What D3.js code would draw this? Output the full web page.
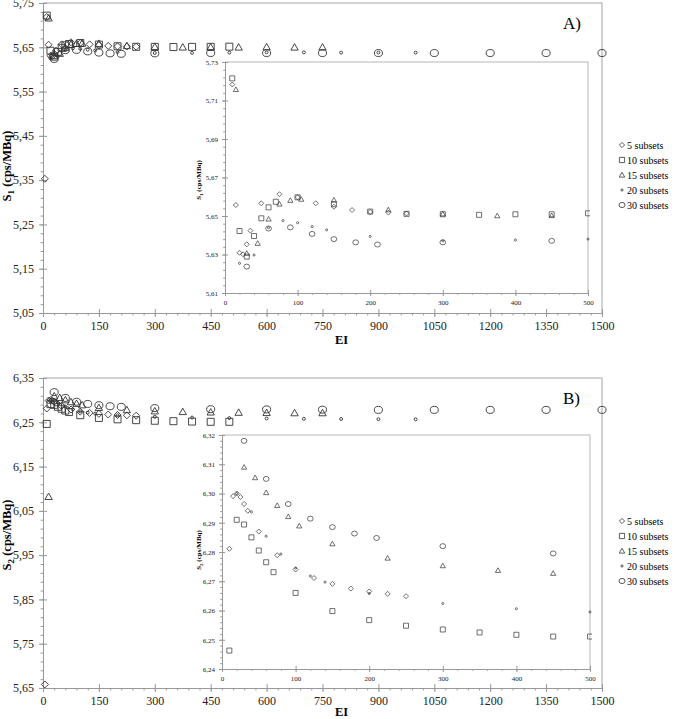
<!DOCTYPE html>
<html>
<head>
<meta charset="utf-8">
<script src="https://cdn.jsdelivr.net/npm/d3@7"></script>
<style>
  body { margin: 0; background: #fff; }
  svg { font-family: "Liberation Serif", "Times New Roman", serif; }
  .mk { fill: none; stroke: #333; stroke-width: 0.9; }
  .ax path, .ax line { stroke: #999; stroke-width: 1; }
  .ax text { fill: #222; }
</style>
</head>
<body>
<svg id="view" width="676" height="719"></svg>
<script>

// iterations run for every subset count; EI = iterations x subsets
const iterations = [1, 2, 3, 4, 5, 6, 7, 10, 15, 20, 25, 30, 35, 40, 45, 50];
const subsets = [5, 10, 15, 20, 30];
const seriesNames = ['5 subsets', '10 subsets', '15 subsets', '20 subsets', '30 subsets'];
const shapes = ['diamond', 'square', 'triangle', 'dot', 'circle'];

// S1 (cps/MBq), one value per iteration count
const s1_5  = [5.353, 5.7183, 5.6557, 5.6309, 5.6301, 5.6353, 5.6424, 5.6566, 5.6613, 5.6597, 5.6566, 5.6548, 5.6531, 5.6521, 5.6518, 5.6513];
const s1_10 = [5.7215, 5.6422, 5.6289, 5.6396, 5.6488, 5.6545, 5.6574, 5.6597, 5.6561, 5.6523, 5.6511, 5.6509, 5.6506, 5.6509, 5.6509, 5.6514];
const s1_15 = [5.7157, 5.6306, 5.6358, 5.6484, 5.6562, 5.6581, 5.6587, 5.6583, 5.6532, 5.6511, 5.6501, 5.6502, 5.6500, 5.6505, 5.6500, 5.6500];
const s1_20 = [5.6254, 5.6297, 5.6439, 5.6476, 5.6465, 5.6445, 5.6428, 5.6394, 5.6371, 5.6375, 5.6380, 5.6385, 5.6385, 5.6380, 5.6380, 5.6380];
const s1_30 = [5.6237, 5.6435, 5.6441, 5.6407, 5.6380, 5.6363, 5.6352, 5.6363, 5.6371, 5.6370, 5.6370, 5.6370, 5.6370, 5.6370, 5.6370, 5.6370];

// S2 (cps/MBq)
const s2_5  = [5.658, 6.2811, 6.2991, 6.3000, 6.2988, 6.2964, 6.2941, 6.2870, 6.2789, 6.2740, 6.2711, 6.2691, 6.2675, 6.2665, 6.2657, 6.2649];
const s2_10 = [6.2463, 6.2910, 6.2894, 6.2850, 6.2805, 6.2765, 6.2731, 6.2660, 6.2598, 6.2567, 6.2548, 6.2535, 6.2525, 6.2517, 6.2511, 6.2511];
const s2_15 = [6.082, 6.3090, 6.3054, 6.3003, 6.2959, 6.2921, 6.2889, 6.2828, 6.2779, 6.2753, 6.2737, 6.2727, 6.2720, 6.2715, 6.2710, 6.2710];
const s2_20 = [6.3000, 6.2937, 6.2854, 6.2793, 6.2745, 6.2718, 6.2697, 6.2658, 6.2624, 6.2606, 6.2595, 6.2585, 6.2580, 6.2575, 6.2570, 6.2568];
const s2_30 = [6.3180, 6.3050, 6.2964, 6.2914, 6.2885, 6.2863, 6.2848, 6.2820, 6.2795, 6.2790, 6.2785, 6.2780, 6.2780, 6.2780, 6.2780, 6.2780];

// axis ticks
const mainXTicks = [0, 150, 300, 450, 600, 750, 900, 1050, 1200, 1350, 1500];
const insetXTicks = [0, 100, 200, 300, 400, 500];
const s1MainTicks = [5.05, 5.15, 5.25, 5.35, 5.45, 5.55, 5.65, 5.75];
const s1InsetTicks = [5.61, 5.63, 5.65, 5.67, 5.69, 5.71, 5.73];
const s2MainTicks = [5.65, 5.75, 5.85, 5.95, 6.05, 6.15, 6.25, 6.35];
const s2InsetTicks = [6.24, 6.25, 6.26, 6.27, 6.28, 6.29, 6.30, 6.31, 6.32];


const svg = d3.select('#view');
const comma = f => v => d3.format(f)(v).replace('.', ',');

const markerPath = function(kind, s){
    if (kind === 'diamond') return `M0,${-s}L${s},0L0,${s}L${-s},0Z`;
    if (kind === 'square') return `M${-s},${-s}H${s}V${s}H${-s}Z`;
    if (kind === 'triangle') return `M0,${-s*1.05}L${s*1.05},${s*0.8}L${-s*1.05},${s*0.8}Z`;
    const rx = kind === 'dot' ? s*0.42 : s*1.15;
    const ry = kind === 'dot' ? s*0.42 : s*1.0;
    return `M${-rx},0A${rx},${ry} 0 1 0 ${rx},0A${rx},${ry} 0 1 0 ${-rx},0Z`;
}

// major ticks cross the axis line, minor ticks stay outside
const drawAxis = function(g, axisFn, scale, major, minor, fmt, size, pad, fs){
    const a = g.append('g').attr('class', 'ax');
    a.append('g').call(axisFn(scale).tickValues(minor).tickSize(size*0.6).tickSizeOuter(0).tickFormat(''));
    a.append('g').call(axisFn(scale).tickValues(major).tickSize(-size).tickSizeOuter(0).tickFormat(''))
        .select('.domain').remove();
    a.append('g').call(axisFn(scale).tickValues(major).tickSize(size).tickSizeOuter(0).tickPadding(pad).tickFormat(fmt))
        .select('.domain').remove();
    a.selectAll('text').style('font-size', fs + 'px').style('font-family', 'Liberation Serif');
    return a;
}

const plotPanel = function(cfg){
    const {main, inset, series, sub, tag, legendY} = cfg;

    // ---- main plot
    const x = d3.scaleLinear().domain([0, 1500]).range([main.left, main.right]);
    const y = d3.scaleLinear().domain(main.domain).range([main.bottom, main.top]);

    svg.append('path')
        .attr('d', `M${main.left},${main.top}H${main.right}V${main.bottom}`)
        .attr('fill', 'none').attr('stroke', '#c4c4c4').attr('stroke-width', 1.5);

    const gx = svg.append('g').attr('transform', `translate(0,${main.bottom})`);
    drawAxis(gx, d3.axisBottom, x, mainXTicks, d3.range(0, 1501, 30), d3.format('d'), 4, 4, 12);
    const gy = svg.append('g').attr('transform', `translate(${main.left},0)`);
    drawAxis(gy, d3.axisLeft, y, main.ticks, d3.range(0, 36).map(i => main.domain[0] + i*0.02), comma('.2f'), 4, 5, 12);

    series.forEach((vals, k) => {
        const pts = iterations.map((it, i) => ({ei: it*subsets[k], v: vals[i]}));
        svg.append('g').selectAll('path')
            .data(pts).enter().append('path')
            .attr('class', 'mk')
            .attr('transform', d => `translate(${x(d.ei)},${y(d.v)})`)
            .attr('d', markerPath(shapes[k], 3.5));
    });

    svg.append('text').attr('x', (main.left + main.right)/2 + 19).attr('y', Math.min(main.bottom + 31, 716))
        .attr('text-anchor', 'middle').style('font-weight', 'bold').style('font-size', '12.5px').text('EI');

    const yl = svg.append('text')
        .attr('transform', `translate(11,${main.labelY}) rotate(-90)`)
        .attr('text-anchor', 'middle').style('font-weight', 'bold').style('font-size', '12.5px');
    yl.append('tspan').text('S');
    yl.append('tspan').attr('dy', 3).style('font-size', '9px').text(sub);
    yl.append('tspan').attr('dy', -3).text(' (cps/MBq)');

    svg.append('text').attr('x', main.right - 39).attr('y', main.top + 26)
        .style('font-size', '17px').text(tag);

    // ---- inset (EI up to 500)
    const xi = d3.scaleLinear().domain([0, 500]).range([inset.left, inset.right]);
    const yi = d3.scaleLinear().domain(inset.domain).range([inset.bottom, inset.top]);

    svg.append('path')
        .attr('d', `M${inset.left},${inset.top}H${inset.right}V${inset.bottom}`)
        .attr('fill', 'none').attr('stroke', '#d0d0d0').attr('stroke-width', 1.5);

    const ix = svg.append('g').attr('transform', `translate(0,${inset.bottom})`);
    drawAxis(ix, d3.axisBottom, xi, insetXTicks, d3.range(0, 501, 20), d3.format('d'), 3, 4, 7);
    const iy = svg.append('g').attr('transform', `translate(${inset.left},0)`);
    const nMinor = Math.round((inset.domain[1] - inset.domain[0]) / inset.minor);
    drawAxis(iy, d3.axisLeft, yi, inset.ticks, d3.range(0, nMinor + 1).map(i => inset.domain[0] + i*inset.minor), comma('.2f'), 3, 4, 7);

    const clipId = 'clip' + tag.replace(')', '');
    svg.append('clipPath').attr('id', clipId).append('rect')
        .attr('x', inset.left).attr('y', inset.top - 2)
        .attr('width', inset.right - inset.left + 2).attr('height', inset.bottom - inset.top + 2);

    const ig = svg.append('g').attr('clip-path', `url(#${clipId})`);
    series.forEach((vals, k) => {
        const pts = iterations.map((it, i) => ({ei: it*subsets[k], v: vals[i]}))
            .filter(d => d.ei <= 500 && d.v >= inset.domain[0] && d.v <= inset.domain[1]);
        ig.append('g').selectAll('path')
            .data(pts).enter().append('path')
            .attr('class', 'mk').style('stroke-width', 0.7)
            .attr('transform', d => `translate(${xi(d.ei)},${yi(d.v)})`)
            .attr('d', markerPath(shapes[k], 2.5));
    });

    const il = svg.append('text')
        .attr('transform', `translate(201,${inset.labelY}) rotate(-90)`)
        .attr('text-anchor', 'middle').style('font-weight', 'bold').style('font-size', '7px');
    il.append('tspan').text('S');
    il.append('tspan').attr('dy', 2).style('font-size', '5px').text(sub);
    il.append('tspan').attr('dy', -2).text(' (cps/MBq)');

    // ---- legend
    const lg = svg.append('g');
    seriesNames.forEach((name, k) => {
        const ly = legendY + k*15;
        lg.append('path').attr('class', 'mk').style('stroke-width', 0.8)
            .attr('transform', `translate(622,${ly})`)
            .attr('d', markerPath(shapes[k], 2.6));
        lg.append('text').attr('x', 627).attr('y', ly + 3.5)
            .style('font-size', '10px').text(name);
    });
}


plotPanel({
    main: {left: 43, right: 602, top: 3, bottom: 313, domain: [5.05, 5.75], ticks: s1MainTicks, labelY: 166},
    inset: {left: 225, right: 588, top: 62, bottom: 293, domain: [5.61, 5.73], ticks: s1InsetTicks, minor: 0.004, labelY: 180},
    series: [s1_5, s1_10, s1_15, s1_20, s1_30],
    sub: '1', tag: 'A)', legendY: 145
});

plotPanel({
    main: {left: 43, right: 602, top: 378, bottom: 688, domain: [5.65, 6.35], ticks: s2MainTicks, labelY: 535},
    inset: {left: 222, right: 590, top: 435, bottom: 669, domain: [6.24, 6.32], ticks: s2InsetTicks, minor: 0.002, labelY: 550},
    series: [s2_5, s2_10, s2_15, s2_20, s2_30],
    sub: '2', tag: 'B)', legendY: 521
});

</script>
</body>
</html>
